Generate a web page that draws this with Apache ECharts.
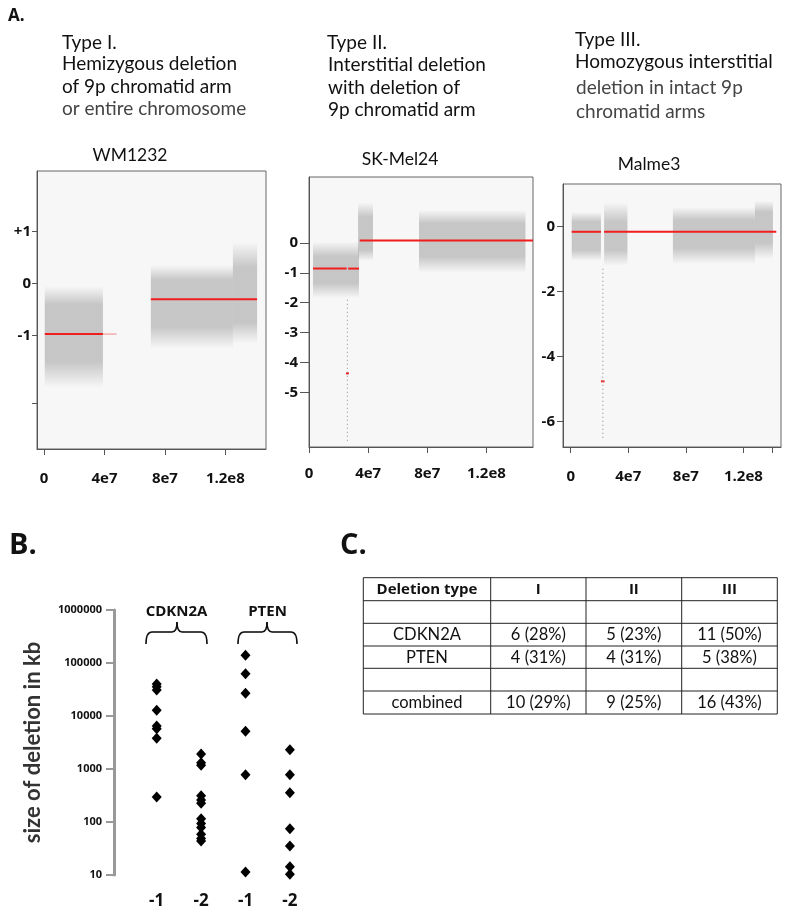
<!DOCTYPE html>
<html><head><meta charset="utf-8">
<script src="https://cdn.jsdelivr.net/npm/echarts@6/dist/echarts.min.js"></script>
<style>html,body{margin:0;padding:0;background:#fff}#c{width:800px;height:910px}</style>
</head><body><div id="c"></div>
<script>
// ---------- Panel A data (x in bp, y in log2 ratio) ----------
const xLabelTicks = [0, 4e7, 8e7, 1.2e8];
const malmeExtraTicks = [0, 4e7, 8e7, 1.2e8, 1.4e8];
// clouds: [xStart, xEnd, outerTop, coreTop, coreBottom, outerBottom]
const wmClouds = [
  [0.5e6, 39e6, -0.05, -0.4, -1.5, -2.0],
  [70.7e6, 125e6, 0.35, 0.07, -0.83, -1.25],
  [125e6, 141e6, 0.8, 0.3, -0.75, -1.15]
];
// segments: [xStart, xEnd, level]
const wmSegments = [[0.5e6, 39e6, -0.97], [70.7e6, 141e6, -0.30]];
const wmFaintSegments = [[39e6, 48e6, -0.97]];
const wmYLabels = [-1, 0, 1];
const wmYTicks = [-2.3, -1, 0, 1];

const skClouds = [
  [2.7e6, 33.8e6, 0.05, -0.46, -1.35, -1.85],
  [33.2e6, 43.3e6, 1.35, 0.87, -0.24, -0.6],
  [74.4e6, 146.4e6, 1.1, 0.65, -0.46, -1.0]
];
const skSegments = [[2.7e6, 25.5e6, -0.86], [26.5e6, 33.8e6, -0.86], [34.3e6, 151.5e6, 0.08], [25e6, 27e6, -4.36]];
const skOutlier = [[26e6, -1.9], [26e6, -6.7]];
const skYLabels = [-5, -4, -3, -2, -1, 0];

const maClouds = [
  [0.7e6, 21e6, 0.45, 0.15, -0.72, -1.05],
  [23.2e6, 39.4e6, 0.75, 0.14, -0.72, -1.2],
  [71e6, 128e6, 0.6, 0.2, -0.66, -1.15],
  [128e6, 140.5e6, 0.8, 0.45, -0.5, -1.0]
];
const maSegments = [[0.7e6, 21e6, -0.16], [23.2e6, 142.8e6, -0.16], [21e6, 23.5e6, -4.76]];
const maOutlier = [[22.3e6, -1.3], [22.3e6, -6.5]];
const maYLabels = [-6, -4, -2, 0];

// ---------- Panel B data (size of deletion in kb) ----------
const bCategories = ['CDKN2A -1', 'CDKN2A -2', 'PTEN -1', 'PTEN -2'];
const cdkn2aHemi = [40200, 35700, 31000, 12800, 6470, 5760, 3800, 296];
const cdkn2aHomo = [1920, 1315, 1173, 314, 260, 225, 115, 94, 79, 59, 49, 44];
const ptenHemi = [139600, 63000, 26800, 5140, 782, 11.4];
const ptenHomo = [2320, 782, 357, 74.8, 35.3, 14.3, 10.3];

// ---------- Panel C table ----------
const tableHeader = ['Deletion type', 'I', 'II', 'III'];
const tableRows = [
  ['', '', '', ''],
  ['CDKN2A', '6 (28%)', '5 (23%)', '11 (50%)'],
  ['PTEN', '4 (31%)', '4 (31%)', '5 (38%)'],
  ['', '', '', ''],
  ['combined', '10 (29%)', '9 (25%)', '16 (43%)']
];

// ---------- rendering ----------
const FONT = "Lato";
const LFONT = "'Open Sans'";
const chart = echarts.init(document.getElementById('c'), null, {renderer: 'canvas'});

function expFmt(v) { if (v === 0) return '0'; return v.toExponential().replace('e+', 'e'); }

function cloudRender(params, api) {
  const x0 = api.value(0), x1 = api.value(1), top = api.value(2), cTop = api.value(3), cBot = api.value(4), bot = api.value(5);
  const p0 = api.coord([x0, top]), p1 = api.coord([x1, bot]);
  const span = top - bot;
  const o1 = (top - cTop) / span, o2 = (top - cBot) / span;
  const c = 'rgba(150,150,150,';
  return {
    type: 'rect',
    shape: {x: p0[0], y: p0[1], width: p1[0] - p0[0], height: p1[1] - p0[1]},
    style: {fill: new echarts.graphic.LinearGradient(0, 0, 0, 1, [
      {offset: 0, color: c + '0)'}, {offset: o1, color: c + '0.5)'},
      {offset: o2, color: c + '0.5)'}, {offset: 1, color: c + '0)'}])}
  };
}
function segRenderFactory(color, width) {
  return function (params, api) {
    const a = api.coord([api.value(0), api.value(2)]);
    const b = api.coord([api.value(1), api.value(2)]);
    return {type: 'line', shape: {x1: a[0], y1: a[1], x2: b[0], y2: b[1]}, style: {stroke: color, lineWidth: width}};
  };
}

const gridsA = [
  {left: 37, top: 171, width: 229, height: 278},
  {left: 309, top: 177, width: 224, height: 270},
  {left: 563, top: 184, width: 218, height: 263}
].map(g => Object.assign(g, {show: true, backgroundColor: '#f7f7f7', borderColor: '#666', borderWidth: 1}));
const gridB = {left: 134.5, top: 610, width: 177.6, height: 265};

const LBL = {fontFamily: LFONT, fontWeight: 700, fontSize: 15, color: '#111'};
function xA(idx, min, max, ticks, margin) {
  return {
    type: 'value', gridIndex: idx, min: min, max: max,
    axisLine: {show: true, onZero: false, lineStyle: {color: '#555'}},
    axisTick: {show: true, customValues: ticks, length: 6, lineStyle: {color: '#555'}},
    axisLabel: Object.assign({customValues: xLabelTicks, formatter: expFmt, margin: margin}, LBL),
    splitLine: {show: false}
  };
}
function yA(idx, min, max, labels, ticks, margin, tlen, fmt) {
  return {
    type: 'value', gridIndex: idx, min: min, max: max,
    axisLine: {show: true, onZero: false, lineStyle: {color: '#555'}},
    axisTick: {show: true, customValues: ticks, length: tlen, lineStyle: {color: '#555'}},
    axisLabel: Object.assign({customValues: labels, margin: margin, formatter: fmt || (v => String(v))}, LBL),
    splitLine: {show: false}
  };
}

const graphics = [];
function txt(x, y, s, opt) {
  graphics.push({type: 'text', x: x, y: y, silent: true, style: Object.assign({
    text: s, fontFamily: FONT, fontSize: 19, fontWeight: 'normal', fill: '#111', align: 'left', verticalAlign: 'middle'}, opt || {})});
}
// panel letters
txt(8, 16, 'A.', {fontFamily: LFONT, fontWeight: 700, fontSize: 17});
txt(9, 546, 'B.', {fontFamily: LFONT, fontWeight: 700, fontSize: 29});
txt(340, 546, 'C.', {fontFamily: LFONT, fontWeight: 700, fontSize: 29});
// type descriptions
txt(62, 43, 'Type I.');
txt(62, 64, 'Hemizygous deletion');
txt(62, 87, 'of 9p chromatid arm');
txt(62, 109, 'or entire chromosome', {fill: '#444'});
txt(327, 43, 'Type II.');
txt(328, 65, 'Interstitial deletion');
txt(328, 88, 'with deletion of');
txt(328, 110, '9p chromatid arm');
txt(575, 40, 'Type III.');
txt(575, 62, 'Homozygous interstitial');
txt(576, 88, 'deletion in intact 9p', {fill: '#444'});
txt(576, 112, 'chromatid arms', {fill: '#444'});
// panel titles
txt(130, 155, 'WM1232', {align: 'center', fontSize: 17.5});
txt(400, 159, 'SK-Mel24', {align: 'center', fontSize: 17.5});
txt(649, 164, 'Malme3', {align: 'center', fontSize: 17.5});
// gene labels and braces (panel B)
txt(176.5, 612, 'CDKN2A', {align: 'center', fontFamily: LFONT, fontWeight: 700, fontSize: 15});
txt(267.5, 612, 'PTEN', {align: 'center', fontFamily: LFONT, fontWeight: 700, fontSize: 15});
function brace(x0, xm, x1) {
  const y0 = 632, yE = 644, yT = 622;
  const st = {stroke: '#111', lineWidth: 1.6, fill: null};
  const parts = [
    {type: 'bezierCurve', shape: {x1: x0, y1: yE, x2: x0 + 6, y2: y0, cpx1: x0, cpy1: y0}},
    {type: 'line', shape: {x1: x0 + 6, y1: y0, x2: xm - 5, y2: y0}},
    {type: 'bezierCurve', shape: {x1: xm - 5, y1: y0, x2: xm, y2: yT, cpx1: xm, cpy1: y0}},
    {type: 'bezierCurve', shape: {x1: xm, y1: yT, x2: xm + 5, y2: y0, cpx1: xm, cpy1: y0}},
    {type: 'line', shape: {x1: xm + 5, y1: y0, x2: x1 - 6, y2: y0}},
    {type: 'bezierCurve', shape: {x1: x1 - 6, y1: y0, x2: x1, y2: yE, cpx1: x1, cpy1: y0}}
  ];
  parts.forEach(p => graphics.push(Object.assign(p, {silent: true, style: st})));
}
brace(146, 177, 207);
brace(238, 267, 297);
// table (panel C)
const colX = [363.3, 490.7, 586, 681.7, 777.3];
const rowY = [577.7, 600.7, 623.3, 646, 668.3, 691, 714];
rowY.forEach(y => graphics.push({type: 'line', silent: true, shape: {x1: colX[0], y1: y, x2: colX[4], y2: y}, style: {stroke: '#222', lineWidth: 1}}));
colX.forEach(x => graphics.push({type: 'line', silent: true, shape: {x1: x, y1: rowY[0], x2: x, y2: rowY[6]}, style: {stroke: '#222', lineWidth: 1}}));
[tableHeader].concat(tableRows).forEach((row, r) => {
  row.forEach((s, c) => {
    if (!s) return;
    txt((colX[c] + colX[c + 1]) / 2, (rowY[r] + rowY[r + 1]) / 2 + 0.5, s,
      r === 0 ? {align: 'center', fontSize: 15, fontFamily: LFONT, fontWeight: 700}
              : {align: 'center', fontSize: 16.5});
  });
});

const series = [];
function addPanel(idx, clouds, segs, outlier, faint) {
  series.push({type: 'custom', xAxisIndex: idx, yAxisIndex: idx, renderItem: cloudRender, data: clouds, silent: true, encode: {x: [0, 1], y: [2, 5]}});
  if (outlier) series.push({type: 'line', xAxisIndex: idx, yAxisIndex: idx, data: outlier, symbol: 'none', silent: true,
    lineStyle: {color: '#999', width: 1.2, type: [1, 3]}});
  if (faint) series.push({type: 'custom', xAxisIndex: idx, yAxisIndex: idx, renderItem: segRenderFactory('rgba(240,60,60,0.6)', 1), data: faint, silent: true, encode: {x: [0, 1], y: 2}});
  series.push({type: 'custom', xAxisIndex: idx, yAxisIndex: idx, renderItem: segRenderFactory('#f01e1e', 2), data: segs, silent: true, encode: {x: [0, 1], y: 2}});
}
addPanel(0, wmClouds, wmSegments, null, wmFaintSegments);
addPanel(1, skClouds, skSegments, skOutlier, null);
addPanel(2, maClouds, maSegments, maOutlier, null);

const bSets = [cdkn2aHemi, cdkn2aHomo, ptenHemi, ptenHomo];
bSets.forEach((arr, i) => {
  series.push({type: 'scatter', xAxisIndex: 3, yAxisIndex: 3, symbol: 'diamond', symbolSize: [10, 11],
    itemStyle: {color: '#000', opacity: 1}, data: arr.map(v => [bCategories[i], v]), silent: true});
});

chart.setOption({
  animation: false,
  backgroundColor: '#fff',
  grid: gridsA.concat([gridB]),
  xAxis: [
    xA(0, -4.63e6, 146.9e6, xLabelTicks, 22),
    xA(1, 0, 151.5e6, xLabelTicks, 19),
    xA(2, -5.36e6, 146.1e6, malmeExtraTicks, 22),
    {type: 'category', gridIndex: 3, data: bCategories, boundaryGap: true,
      axisLine: {show: false}, axisTick: {show: false}, splitLine: {show: false},
      axisLabel: {interval: 0, formatter: v => v.split(' ')[1], margin: 18, fontFamily: LFONT, fontWeight: 700, fontSize: 17, color: '#111'}}
  ],
  yAxis: [
    yA(0, -3.174, 2.157, wmYLabels, wmYTicks, 6, 5, v => (v > 0 ? '+' + v : String(v))),
    yA(1, -6.82, 2.2, skYLabels, skYLabels, 11, 9),
    yA(2, -6.78, 1.31, maYLabels, maYLabels, 8, 6),
    {type: 'log', gridIndex: 3, min: 10, max: 1000000, logBase: 10, offset: 20.5,
      axisLine: {show: true, lineStyle: {color: '#999', width: 3}},
      axisTick: {show: true, length: 8, lineStyle: {color: '#999', width: 2}},
      axisLabel: {margin: 12, formatter: v => String(Math.round(v)), fontFamily: LFONT, fontWeight: 700, fontSize: 11, color: '#111'},
      splitLine: {show: false}, minorTick: {show: false},
      name: 'size of deletion in kb', nameLocation: 'middle', nameGap: 70, nameRotate: 90,
      nameTextStyle: {fontFamily: FONT, fontWeight: 'bold', fontSize: 22, color: '#333'}}
  ],
  series: series,
  graphic: graphics
});
</script>
</body></html>
